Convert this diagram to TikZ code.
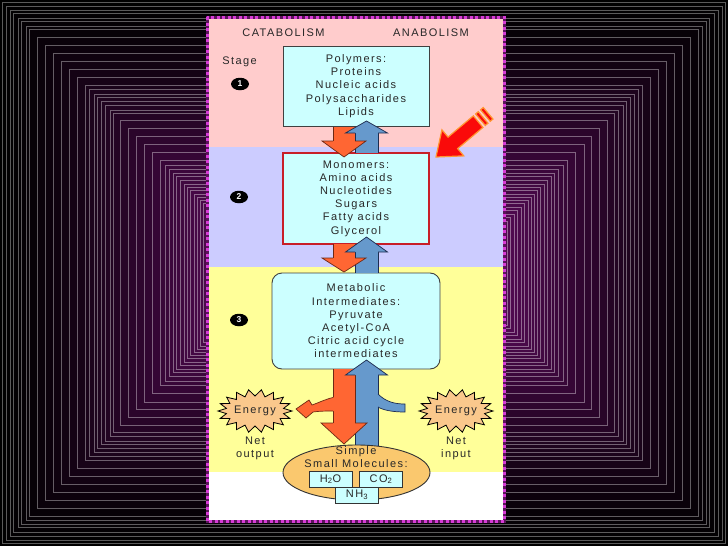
\documentclass[tikz,border=0pt]{standalone}
\usepackage{fontspec}
\setmainfont{Liberation Sans}[LetterSpace=13]
\usetikzlibrary{shapes.geometric}
\definecolor{bgp}{RGB}{82,10,82}
\definecolor{lnA}{RGB}{90,90,90}
\definecolor{lnB}{RGB}{150,105,150}
\definecolor{pinkband}{RGB}{255,204,204}
\definecolor{lavband}{RGB}{204,204,255}
\definecolor{yelband}{RGB}{255,255,153}
\definecolor{cyanbox}{RGB}{204,255,255}
\definecolor{orA}{RGB}{255,102,51}
\definecolor{orD}{RGB}{110,40,20}
\definecolor{blA}{RGB}{102,153,204}
\definecolor{blD}{RGB}{30,45,80}
\definecolor{ellfill}{RGB}{250,200,110}
\definecolor{starfill}{RGB}{250,200,140}
\definecolor{boxred}{RGB}{200,30,40}
\definecolor{txt}{RGB}{40,40,40}
\definecolor{mag}{RGB}{215,60,215}
\definecolor{magdark}{RGB}{90,20,90}
\definecolor{redarrow}{RGB}{250,10,10}
\definecolor{redrim}{RGB}{255,150,50}

% #1 fill, #2 line, #3 cx, #4 hw, #5 y1, #6 y2
\newcommand\blkshaft[6]{%
  \fill[#1] (#3-#4,#5) rectangle (#3+#4,#6);
  \draw[#2, line width=0.7pt] (#3-#4,#5) -- (#3-#4,#6) (#3+#4,#5) -- (#3+#4,#6);}
% #1 fill, #2 line, #3 cx, #4 shaft hw, #5 head hw, #6 y base, #7 y tip
\newcommand\blkhead[7]{%
  \fill[#1] (#3-#4,#6) -- (#3-#5,#6) -- (#3,#7) -- (#3+#5,#6) -- (#3+#4,#6) -- cycle;
  \draw[#2, line width=0.7pt, line join=miter] (#3-#4,#6) -- (#3-#5,#6) -- (#3,#7) -- (#3+#5,#6) -- (#3+#4,#6);}
% star burst at (#1,#2)
\newcommand\energyburst[2]{%
  \draw[burst, shift={(#1,#2)}] plot[samples=37, domain=0:36]
    ({(mod(round(\x),2)==0 ? 37 : 29)*cos(\x*10)}, {(mod(round(\x),2)==0 ? 21.5 : 15)*sin(\x*10)}) -- cycle;}

\begin{document}
\begin{tikzpicture}[x=1pt, y=-1pt, font=\fontsize{11}{13.2}\selectfont,
  every node/.style={text=txt},
  cbox/.style={draw=black!75, fill=cyanbox, line width=0.9pt, align=center, inner sep=0pt},
  stagenum/.style={ellipse, fill=black, minimum width=18pt, minimum height=12.5pt, inner sep=0pt, text=white, font=\fontsize{8.5}{8.5}\selectfont\bfseries},
  burst/.style={draw=black, fill=starfill, line width=0.8pt, line join=miter},
  mbox/.style={draw=black!80, fill=cyanbox, line width=0.8pt, minimum width=43pt, minimum height=16pt, inner sep=0pt},
  rarrow/.style={fill=redarrow, draw=redrim, line width=1.2pt, line join=miter}]
\useasboundingbox (0,0) rectangle (728,546);

% background
\fill[black] (0,0) rectangle (728,546);
\foreach \d in {2.7,6,10,13.3,18.3,21.7,26,29.3,37.3,45.3,53.3,61.3,69.3,77.3,85.3,89.3,94,97.3,101.7,105,110,113.3,120.7,128.3,136.7,144,152.7,160.7,165,169.3,173.3,176.7,180.7,184,187.3,190.7,194,197,200,203.5,207,210.5,214,217.5,221} {
  \pgfmathsetmacro\bgt{100*(\d/221)^1.2}
  \filldraw[fill=bgp!\bgt!black, draw=lnB!\bgt!lnA, line width=0.6pt] (\d,\d) rectangle (728-\d,546-\d);
}

% panel
\fill[pinkband] (207,17) rectangle (504,147);
\fill[lavband] (207,147) rectangle (504,267);
\fill[yelband] (207,267) rectangle (504,472);
\fill[white] (207,472) rectangle (504,521);
\draw[magdark, line width=3pt] (207,17) rectangle (504,521);
\draw[mag, line width=3pt, dash pattern=on 3pt off 2.5pt] (207,17) rectangle (504,521);

% headers
\node (cat) at (283.5,33) {CATABOLISM};
\node (ana) at (431,33) {ANABOLISM};
\node (stage) at (239.5,62) {Stage};
\node[stagenum] (s1) at (240,84) {1};
\node[stagenum] (s2) at (239,197) {2};
\node[stagenum] (s3) at (239,320) {3};

% boxes
\node[cbox, minimum width=146pt, minimum height=80pt] (poly) at (356,86) {Polymers:\\Proteins\\Nucleic acids\\Polysaccharides\\Lipids};
\node[cbox, draw=boxred, line width=2.5pt, minimum width=146pt, minimum height=91pt] (mono) at (356,198.5) {Monomers:\\Amino acids\\Nucleotides\\Sugars\\Fatty acids\\Glycerol};
\node[cbox, rounded corners=10pt, minimum width=168pt, minimum height=96pt] (meta) at (356,321) {Metabolic\\Intermediates:\\Pyruvate\\Acetyl-CoA\\Citric acid cycle\\intermediates};

% arrows stage 1 <-> 2
\blkshaft{orA}{orD}{344}{11}{127}{141}
\blkshaft{blA}{blD}{366.5}{11.5}{133}{153}
\blkhead{orA}{orD}{344}{11}{22}{141}{157}
\blkhead{blA}{blD}{366.5}{11.5}{21}{133}{121}

% arrows stage 2 <-> 3
\blkshaft{orA}{orD}{344}{11}{244}{258}
\blkshaft{blA}{blD}{366.5}{11.5}{252}{273}
\blkhead{orA}{orD}{344}{11}{22}{258}{272}
\blkhead{blA}{blD}{366.5}{11.5}{21}{252}{237}

% arrows stage 3 <-> small molecules
\blkshaft{blA}{blD}{366.5}{11.5}{375}{470}
\fill[blA] (375,393) -- (378,394) .. controls (386,402) and (395,404) .. (405,404) -- (405,412) .. controls (392,412) and (383,410) .. (378,407) -- (375,407) -- cycle;
\draw[blD, line width=0.7pt] (378,394) .. controls (386,402) and (395,404) .. (405,404) -- (405,412) .. controls (392,412) and (383,410) .. (378,407);
\blkshaft{orA}{orD}{344}{11}{369}{423}
\fill[orA] (336,397) -- (333,397.5) .. controls (326,399) and (318,403) .. (312,405) -- (309,400) -- (296,409) -- (306,418) -- (313,412) .. controls (320,411) and (327,411) .. (333,411) -- (336,411) -- cycle;
\draw[orD, line width=0.7pt, line join=miter] (333,397.5) .. controls (326,399) and (318,403) .. (312,405) -- (309,400) -- (296,409) -- (306,418) -- (313,412) .. controls (320,411) and (327,411) .. (333,411);
\node[ellipse, draw=black!80, fill=ellfill, line width=0.9pt, minimum width=147pt, minimum height=55pt, inner sep=0pt] (small) at (356.5,472.5) {};
\blkhead{orA}{orD}{344}{11}{23}{423}{444}
\blkhead{blA}{blD}{366.5}{11.5}{21}{375}{360}

% energy
\energyburst{255}{411}
\energyburst{456}{411}
\node (enL) at (255,411) {Energy};
\node (enR) at (456,411) {Energy};
\node[align=center] (netout) at (255,448.5) {Net\\output};
\node[align=center] (netin) at (456,448.5) {Net\\input};

% small molecules
\node[align=center] (smalltxt) at (356,457) {Simple\\Small Molecules:};
\node[mbox] (h2o) at (330.5,479) {H\textsubscript{2}O};
\node[mbox] (co2) at (381,479) {CO\textsubscript{2}};
\node[mbox] (nh3) at (357,495) {NH\textsubscript{3}};

% red pointer arrow
\begin{scope}[shift={(436,157)}, rotate=40]
  \filldraw[rarrow] (0,0) -- (22,17) -- (22,7.5) -- (55,7.5) -- (55,-7.5) -- (22,-7.5) -- (22,-17) -- cycle;
  \filldraw[rarrow] (58,-7.5) rectangle (61.5,7.5);
  \filldraw[rarrow] (64.5,-7.5) rectangle (68,7.5);
\end{scope}
\end{tikzpicture}
\end{document}
